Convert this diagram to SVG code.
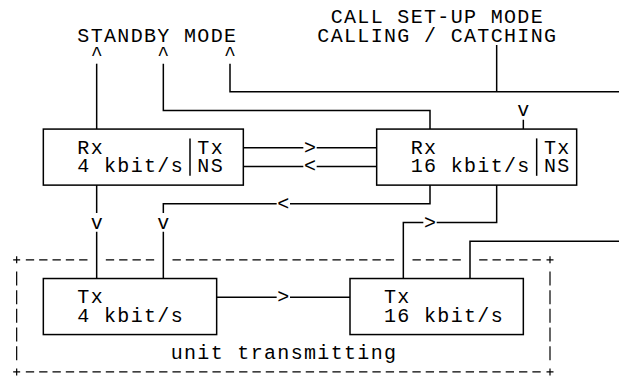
<svg xmlns="http://www.w3.org/2000/svg" width="619" height="376" viewBox="0 0 619 376">
<style>
  .t { font-family: "Liberation Mono", "DejaVu Sans Mono", monospace; font-size: 20px; letter-spacing: 1.333px; fill: #000; }
  .g { font-family: "Liberation Mono", "DejaVu Sans Mono", monospace; font-size: 20px; fill: #000; text-anchor: middle; }
  .box { fill: #fff; stroke: #000; stroke-width: 1.5; }
  .ln { fill: none; stroke: #000; stroke-width: 1.5; }
  .dh { fill: none; stroke: #000; stroke-width: 1.2; stroke-dasharray: 8.33 5; }
  .dv { fill: none; stroke: #000; stroke-width: 1.2; stroke-dasharray: 14 4.68; }
  .pl { fill: none; stroke: #000; stroke-width: 1.2; }
</style>
<rect width="619" height="376" fill="#fff"/>

<g id="labels">
  <text class="t" x="330.67" y="23">CALL SET-UP MODE</text>
  <text class="t" x="317.33" y="41.7">CALLING / CATCHING</text>
  <text class="t" x="77.33" y="41.7">STANDBY MODE</text>
</g>

<g id="connectors">
  <path class="ln" d="M96.67,63.7 V129.08"/>
  <path class="ln" d="M163.33,63.7 V110.4 H430 V129.08"/>
  <path class="ln" d="M230,63.7 V91.72 H619"/>
  <path class="ln" d="M496.67,45 V91.72"/>
  <path class="ln" d="M523.33,119.74 V129.08"/>
  <text class="g" x="96.67" y="60.4">^</text>
  <text class="g" x="163.33" y="60.4">^</text>
  <text class="g" x="230" y="60.4">^</text>
  <text class="g" x="523.33" y="116.4">v</text>

  <path class="ln" d="M243.33,147.76 H303.33 M316.67,147.76 H376.67"/>
  <text class="g" x="310" y="153.8">&gt;</text>
  <path class="ln" d="M243.33,166.44 H303.33 M316.67,166.44 H376.67"/>
  <text class="g" x="310" y="172.4">&lt;</text>

  <path class="ln" d="M430,185.12 V203.8 H290 M276.67,203.8 H163.33 V213.1 M163.33,231.8 V278.52"/>
  <text class="g" x="283.33" y="209.8">&lt;</text>
  <text class="g" x="163.33" y="228.5">v</text>

  <path class="ln" d="M96.67,185.12 V213.1 M96.67,231.8 V278.52"/>
  <text class="g" x="96.67" y="228.5">v</text>

  <path class="ln" d="M496.67,185.12 V222.48 H436.67 M423.33,222.48 H403.33 V278.52"/>
  <text class="g" x="430" y="228.5">&gt;</text>

  <path class="ln" d="M619,241.16 H470 V278.52"/>

  <path class="ln" d="M216.67,297.2 H276.67 M290,297.2 H350"/>
  <text class="g" x="283.33" y="303.2">&gt;</text>
</g>

<g id="unit-transmitting">
  <path class="dh" d="M25.83,259.84 H87.5 M105.83,259.84 H154.17 M172.5,259.84 H394.17 M412.5,259.84 H460.83 M479.17,259.84 H540.83"/>
  <path class="dh" d="M25.83,371.92 H540.83"/>
  <path class="dv" d="M16.67,271.5 V360.2 M550,271.5 V360.2"/>
  <path class="pl" d="M13.17,259.84 H20.17 M16.67,256.34 V263.34 M546.5,259.84 H553.5 M550,256.34 V263.34 M13.17,371.92 H20.17 M16.67,368.42 V375.42 M546.5,371.92 H553.5 M550,368.42 V375.42"/>
  <text class="t" x="170.67" y="359.2">unit transmitting</text>
</g>

<g id="rx4">
  <rect class="box" x="43.33" y="129.08" width="200" height="56.04"/>
  <path class="ln" d="M190,138.4 V175.8"/>
  <text class="t" x="77.33" y="153.8">Rx</text>
  <text class="t" x="77.33" y="172.4">4 kbit/s</text>
  <text class="t" x="197.33" y="153.8">Tx</text>
  <text class="t" x="197.33" y="172.4">NS</text>
</g>

<g id="rx16">
  <rect class="box" x="376.67" y="129.08" width="200" height="56.04"/>
  <path class="ln" d="M536.67,138.4 V175.8"/>
  <text class="t" x="410.67" y="153.8">Rx</text>
  <text class="t" x="410.67" y="172.4">16 kbit/s</text>
  <text class="t" x="544" y="153.8">Tx</text>
  <text class="t" x="544" y="172.4">NS</text>
</g>

<g id="tx4">
  <rect class="box" x="43.33" y="278.52" width="173.33" height="56.04"/>
  <text class="t" x="77.33" y="303.2">Tx</text>
  <text class="t" x="77.33" y="321.9">4 kbit/s</text>
</g>

<g id="tx16">
  <rect class="box" x="350" y="278.52" width="173.33" height="56.04"/>
  <text class="t" x="384" y="303.2">Tx</text>
  <text class="t" x="384" y="321.9">16 kbit/s</text>
</g>
</svg>
